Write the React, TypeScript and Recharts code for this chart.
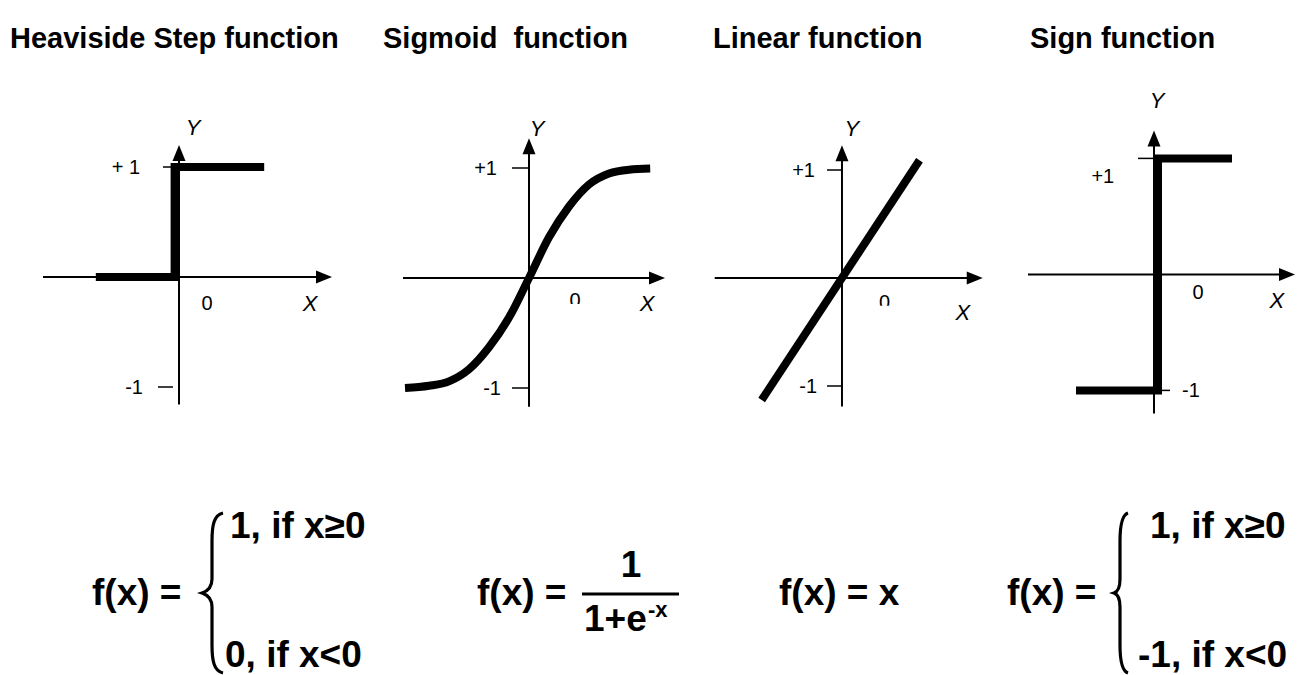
import React from "react";
import { LineChart, Line, XAxis, YAxis, ReferenceLine, ReferenceDot } from "recharts";

const FONT = "'Liberation Sans', Arial, Helvetica, sans-serif";

// titles over each panel
const titles = ["Heaviside Step function", "Sigmoid  function", "Linear function", "Sign function"];
const titleX = [10, 383, 713, 1030];

// Heaviside step: 0 below zero, 1 from zero on
const stepX = [-2.08, -0.11, -0.11, 2.13];
const stepY = [0, 0, 1, 1];

// sigmoid curve
const sigmoidX = [-3.1, -2.5, -2, -1.5, -1, -0.5, 0, 0.5, 1, 1.5, 2, 2.5, 3.03];
const sigmoidY = [-1.0, -0.98, -0.94, -0.83, -0.63, -0.36, 0, 0.37, 0.65, 0.85, 0.95, 0.985, 0.995];

// linear: y = x
const linearX = [-1.13, 1.09];
const linearY = [-1.13, 1.09];

// sign: -1 below zero, +1 from zero on
const signX = [-1.95, 0.1, 0.1, 1.95];
const signY = [-1, -1, 1, 1];

// tick labels on the Y axes (+1 / -1)
const tickValues = [1, -1];
const tickLabels = [
    ["+ 1", "-1"],
    ["+1", "-1"],
    ["+1", "-1"],
    ["+1", "-1"],
];

const toPoints = (xs: number[], ys: number[]) => xs.map((x, i) => ({ x, y: ys[i] }));

type Pt = { x: number; y: number; anchor?: "start" | "middle" | "end" };

interface PanelCfg {
    data: { x: number; y: number }[];
    curve: "linear" | "monotone";
    ox: number; // pixel position of the origin
    oy: number;
    xUnit: number; // px per unit
    yUnit: number;
    xDomain: [number, number];
    yDomain: [number, number];
    xAxis: [number, number];
    yAxis: [number, number];
    ticks: { x1: number; x2: number }[];
    tickText: Pt[];
    zero: Pt;
    clipZero: boolean;
    xName: Pt;
    yName: Pt;
}

const panels: PanelCfg[] = [
    {
        data: toPoints(stepX, stepY),
        curve: "linear",
        ox: 179, oy: 277, xUnit: 40, yUnit: 110,
        xDomain: [-4, 4], yDomain: [-1.35, 1.5],
        xAxis: [-3.4, 3.825], yAxis: [-1.16, 1.2],
        ticks: [{ x1: -0.4, x2: 0 }, { x1: -0.525, x2: -0.15 }],
        tickText: [{ x: -0.975, y: 1, anchor: "end" }, { x: -0.9, y: -1, anchor: "end" }],
        zero: { x: 0.7, y: -0.24 }, clipZero: false,
        xName: { x: 3.275, y: -0.24 }, yName: { x: 0.35, y: 1.36 },
    },
    {
        data: toPoints(sigmoidX, sigmoidY),
        curve: "monotone",
        ox: 529, oy: 278, xUnit: 40, yUnit: 110,
        xDomain: [-4, 4], yDomain: [-1.35, 1.5],
        xAxis: [-3.15, 3.4], yAxis: [-1.17, 1.27],
        ticks: [{ x1: -0.425, x2: 0 }, { x1: -0.425, x2: 0 }],
        tickText: [{ x: -0.8, y: 1, anchor: "end" }, { x: -0.7, y: -1, anchor: "end" }],
        zero: { x: 1.15, y: -0.2 }, clipZero: true,
        xName: { x: 2.95, y: -0.23 }, yName: { x: 0.2, y: 1.36 },
    },
    {
        data: toPoints(linearX, linearY),
        curve: "linear",
        ox: 842, oy: 278, xUnit: 71.1, yUnit: 108,
        xDomain: [-2.25, 2.25], yDomain: [-1.35, 1.5],
        xAxis: [-1.79, 1.98], yAxis: [-1.19, 1.23],
        ticks: [{ x1: -0.21, x2: 0 }, { x1: -0.21, x2: 0 }],
        tickText: [{ x: -0.38, y: 1, anchor: "end" }, { x: -0.35, y: -1, anchor: "end" }],
        zero: { x: 0.6, y: -0.22 }, clipZero: true,
        xName: { x: 1.7, y: -0.32 }, yName: { x: 0.14, y: 1.39 },
    },
    {
        data: toPoints(signX, signY),
        curve: "linear",
        ox: 1154, oy: 274, xUnit: 40, yUnit: 116,
        xDomain: [-4, 3.6], yDomain: [-1.4, 1.65],
        xAxis: [-3.15, 3.525], yAxis: [-1.2, 1.24],
        ticks: [{ x1: -0.4, x2: 0 }, { x1: 0, x2: 0.4 }],
        tickText: [{ x: -1.28, y: 0.85, anchor: "middle" }, { x: 0.7, y: -1, anchor: "start" }],
        zero: { x: 1.1, y: -0.155 }, clipZero: false,
        xName: { x: 3.07, y: -0.22 }, yName: { x: 0.08, y: 1.5 },
    },
];

// axis line with a filled arrow head at the second point
const AxisArrow = (props: any) => {
    const { x1, y1, x2, y2 } = props;
    const len = 16;
    const half = 6.5;
    const horizontal = Math.abs(x2 - x1) > Math.abs(y2 - y1);
    const head = horizontal
        ? `${x2},${y2} ${x2 - len},${y2 - half} ${x2 - len},${y2 + half}`
        : `${x2},${y2} ${x2 - half},${y2 + len} ${x2 + half},${y2 + len}`;
    return (
        <g>
            <line
                x1={x1}
                y1={y1}
                x2={horizontal ? x2 - len + 1 : x2}
                y2={horizontal ? y2 : y2 + len - 1}
                stroke="#000"
                strokeWidth={2}
            />
            <polygon points={head} fill="#000" />
        </g>
    );
};

const textShape = (value: string, anchor: string, size: number, italic = false, clipId?: string) => (props: any) => (
    <g>
        {clipId && (
            <defs>
                <clipPath id={clipId}>
                    <rect x={props.cx - 20} y={props.cy - 20} width={40} height={24} />
                </clipPath>
            </defs>
        )}
        <text
            x={props.cx}
            y={props.cy}
            dy="0.35em"
            textAnchor={anchor}
            fontSize={size}
            fontStyle={italic ? "italic" : "normal"}
            fontFamily={FONT}
            fill="#000"
            clipPath={clipId ? `url(#${clipId})` : undefined}
        >
            {value}
        </text>
    </g>
);

function FunctionPanel({ p, idx }: { p: PanelCfg; idx: number }) {
    const width = (p.xDomain[1] - p.xDomain[0]) * p.xUnit;
    const height = (p.yDomain[1] - p.yDomain[0]) * p.yUnit;
    const left = p.ox + p.xDomain[0] * p.xUnit;
    const top = p.oy - p.yDomain[1] * p.yUnit;
    return (
        <div style={{ position: "absolute", left, top }}>
            <LineChart width={width} height={height} data={p.data} margin={{ top: 0, right: 0, bottom: 0, left: 0 }}>
                <XAxis type="number" dataKey="x" domain={p.xDomain} hide allowDataOverflow />
                <YAxis type="number" domain={p.yDomain} hide allowDataOverflow />
                <ReferenceLine segment={[{ x: p.xAxis[0], y: 0 }, { x: p.xAxis[1], y: 0 }]} shape={AxisArrow} />
                <ReferenceLine segment={[{ x: 0, y: p.yAxis[0] }, { x: 0, y: p.yAxis[1] }]} shape={AxisArrow} />
                {tickValues.map((v, i) => (
                    <ReferenceLine
                        key={"t" + i}
                        segment={[{ x: p.ticks[i].x1, y: v }, { x: p.ticks[i].x2, y: v }]}
                        stroke="#000"
                        strokeWidth={1.5}
                    />
                ))}
                {tickValues.map((v, i) => (
                    <ReferenceDot
                        key={"l" + i}
                        x={p.tickText[i].x}
                        y={p.tickText[i].y}
                        shape={textShape(tickLabels[idx][i], p.tickText[i].anchor || "end", 20)}
                    />
                ))}
                <ReferenceDot
                    x={p.zero.x}
                    y={p.zero.y}
                    shape={textShape("0", "middle", 20, false, p.clipZero ? `zclip${idx}` : undefined)}
                />
                <ReferenceDot x={p.xName.x} y={p.xName.y} shape={textShape("X", "middle", 22, true)} />
                <ReferenceDot x={p.yName.x} y={p.yName.y} shape={textShape("Y", "middle", 22, true)} />
                <Line
                    type={p.curve}
                    dataKey="y"
                    stroke="#000"
                    strokeWidth={8}
                    strokeLinejoin="miter"
                    strokeLinecap="butt"
                    dot={false}
                    activeDot={false}
                    isAnimationActive={false}
                />
            </LineChart>
        </div>
    );
}

// curly brace from top to bottom, point towards the left
const brace = (x: number, top: number, bottom: number, tip: number, w: number) => {
    const mid = (top + bottom) / 2;
    const v = x - w;
    return `M ${x} ${top} C ${v + 2} ${top + 2}, ${v} ${top + 12}, ${v} ${top + 28} L ${v} ${mid - 14} C ${v} ${mid - 4}, ${tip + 3} ${mid - 1}, ${tip} ${mid} C ${tip + 3} ${mid + 1}, ${v} ${mid + 4}, ${v} ${mid + 14} L ${v} ${bottom - 28} C ${v} ${bottom - 12}, ${v + 2} ${bottom - 2}, ${x} ${bottom}`;
};

export default function App() {
    const f = { fontFamily: FONT, fontWeight: 700, fill: "#000" } as const;
    return (
        <div style={{ position: "absolute", left: 0, top: 0, width: 1301, height: 675, overflow: "hidden", background: "#fff" }}>
            <svg width={1301} height={675} style={{ position: "absolute", left: 0, top: 0 }}>
                {titles.map((t, i) => (
                    <text key={t} x={titleX[i]} y={48} fontSize={29} {...f} style={{ whiteSpace: "pre" }}>
                        {t}
                    </text>
                ))}

                {/* Heaviside */}
                <text x={92} y={605} fontSize={37} {...f}>f(x) =</text>
                <path d={brace(223, 513, 673, 202, 11)} fill="none" stroke="#000" strokeWidth={3.2} />
                <text x={230} y={538} fontSize={37} {...f}>1, if x≥0</text>
                <text x={225} y={667} fontSize={37} {...f}>0, if x&lt;0</text>

                {/* Sigmoid */}
                <text x={477} y={605} fontSize={37} {...f}>f(x) =</text>
                <text x={631} y={577} fontSize={37} textAnchor="middle" {...f}>1</text>
                <line x1={582} y1={594} x2={679} y2={594} stroke="#000" strokeWidth={3} />
                <text x={584} y={631} fontSize={37} {...f}>1+e</text>
                <text x={648} y={617} fontSize={22} {...f}>-x</text>

                {/* Linear */}
                <text x={779} y={605} fontSize={37} {...f}>f(x) = x</text>

                {/* Sign */}
                <text x={1007} y={605} fontSize={37} {...f}>f(x) =</text>
                <path d={brace(1128, 513, 673, 1114, 8)} fill="none" stroke="#000" strokeWidth={3.2} />
                <text x={1150} y={538} fontSize={37} {...f}>1, if x≥0</text>
                <text x={1138} y={667} fontSize={37} {...f}>-1, if x&lt;0</text>
            </svg>
            {panels.map((p, i) => (
                <FunctionPanel key={i} p={p} idx={i} />
            ))}
        </div>
    );
}
